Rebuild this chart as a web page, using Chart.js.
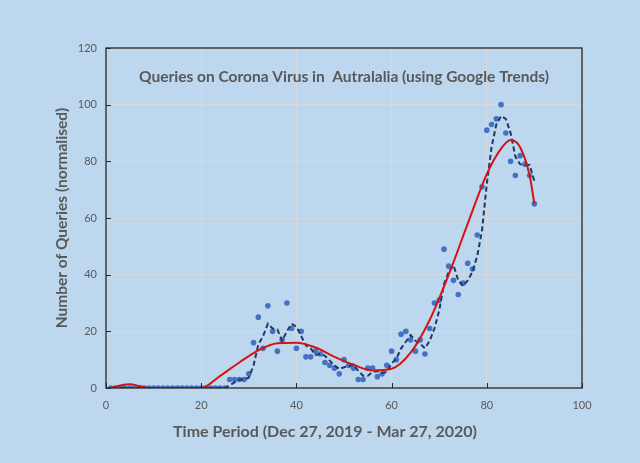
<!DOCTYPE html>
<html>
<head>
<meta charset="utf-8">
<script src="https://cdn.jsdelivr.net/npm/chart.js@4.4.0/dist/chart.umd.min.js"></script>
<style>
  html, body { margin: 0; padding: 0; background: #bdd7ee; }
  #wrap { width: 640px; height: 463px; }
</style>
</head>
<body>
<div id="wrap"><canvas id="chart" width="640" height="463"></canvas></div>
<script>
// day index 1..90 (Dec 27, 2019 - Mar 27, 2020)
const days = Array.from({ length: 90 }, (_, i) => i + 1);
// Google Trends values
const queries = [
  0, 0, 0, 0, 0, 0, 0, 0, 0, 0,
  0, 0, 0, 0, 0, 0, 0, 0, 0, 0,
  0, 0, 0, 0, 0, 3, 3, 3, 3, 5,
  16, 25, 14, 29, 20, 13, 17, 30, 21, 14,
  20, 11, 11, 13, 12, 9, 8, 7, 5, 10,
  8, 7, 3, 3, 7, 7, 4, 5, 8, 13,
  10, 19, 20, 17, 13, 17, 12, 21, 30, 31,
  49, 43, 38, 33, 37, 44, 42, 54, 71, 91,
  93, 95, 100, 90, 80, 75, 82, 79, 75, 65
];
// polynomial trendline (red)
const polyX = [1, 3, 5, 7, 9, 20, 24, 28, 32, 36, 40, 44, 48, 52, 56, 60, 64, 68, 72, 76, 80, 83, 85, 87, 89, 90];
const polyY = [0, 0.9, 1.3, 0.7, 0, 0, 4.3, 9, 13.3, 15.8, 16, 14.3, 11, 8.2, 6.2, 6.8, 12.5, 24, 40, 58, 75.5, 84.5, 87.5, 85, 75, 65];
const maPeriod = 3;

const chartTitle = 'Queries on Corona Virus in  Autralalia (using Google Trends)';
const xTitle = 'Time Period (Dec 27, 2019 - Mar 27, 2020)';
const yTitle = 'Number of Queries (normalised)';

const txtColor = '#595959';
const font = 'Lato, "Open Sans", sans-serif';

let pts = days.map((d, i) => ({ x: d, y: queries[i] }));
// Excel style moving average trendline
let maPts = [];
for (let i = maPeriod - 1; i < queries.length; i++) {
  let s = 0;
  for (let k = 0; k < maPeriod; k++) s += queries[i - k];
  maPts.push({ x: days[i], y: s / maPeriod });
}
let polyPts = polyX.map((x, i) => ({ x: x, y: polyY[i] }));

const framePlugin = {
  id: 'frame',
  afterDatasetsDraw(chart) {
    const { ctx, chartArea: a, scales } = chart;
    ctx.save();
    ctx.strokeStyle = '#262626';
    ctx.lineWidth = 1.3;
    ctx.strokeRect(a.left, a.top, a.right - a.left, a.bottom - a.top);
    // inward tick marks
    ctx.lineWidth = 1;
    ctx.beginPath();
    scales.x.ticks.forEach(t => {
      const px = Math.round(scales.x.getPixelForValue(t.value)) + 0.5;
      ctx.moveTo(px, a.bottom);
      ctx.lineTo(px, a.bottom - 5);
    });
    scales.y.ticks.forEach(t => {
      const py = Math.round(scales.y.getPixelForValue(t.value)) + 0.5;
      ctx.moveTo(a.left, py);
      ctx.lineTo(a.left + 5, py);
    });
    ctx.stroke();
    ctx.restore();
  },
  afterDraw(chart) {
    const { ctx, chartArea: a } = chart;
    ctx.save();
    ctx.fillStyle = txtColor;
    ctx.textAlign = 'center';
    ctx.textBaseline = 'middle';
    ctx.font = 'bold 15.5px ' + font;
    ctx.fillText(chartTitle, (a.left + a.right) / 2, 77);
    ctx.font = 'bold 16px ' + font;
    ctx.fillText(xTitle, 325, 432);
    ctx.restore();
  }
};

new Chart(document.getElementById('chart'), {
  type: 'scatter',
  data: {
    datasets: [
      {
        label: 'Poly. trend',
        data: polyPts,
        showLine: true,
        borderColor: '#d41414',
        borderWidth: 2,
        pointRadius: 0,
        cubicInterpolationMode: 'monotone',
        order: 1
      },
      {
        label: '3 per. Mov. Avg.',
        data: maPts,
        showLine: true,
        borderColor: '#1f3864',
        borderWidth: 2,
        borderDash: [5, 3],
        pointRadius: 0,
        tension: 0,
        order: 2
      },
      {
        label: 'Queries',
        data: pts,
        backgroundColor: '#4472c4',
        borderWidth: 0,
        pointRadius: 2.8,
        order: 3
      }
    ]
  },
  options: {
    responsive: false,
    animation: false,
    devicePixelRatio: 1,
    layout: { padding: { left: 0, top: 48, right: 58, bottom: 0 } },
    plugins: {
      legend: { display: false },
      tooltip: { enabled: false }
    },
    scales: {
      x: {
        min: 0, max: 100,
        ticks: { stepSize: 20, color: txtColor, padding: 11, font: { family: font, size: 11 } },
        grid: { color: 'rgba(217,217,217,0.9)', drawTicks: false },
        border: { display: false },
        afterFit(s) { s.height = 75; }
      },
      y: {
        min: 0, max: 120,
        ticks: { stepSize: 20, color: txtColor, padding: 9, font: { family: font, size: 11 } },
        grid: { color: 'rgba(217,217,217,0.9)', drawTicks: false },
        border: { display: false },
        title: {
          display: true,
          text: yTitle,
          color: txtColor,
          font: { family: font, size: 15.5, weight: 'bold' },
          padding: { top: 53, bottom: 0 }
        },
        afterFit(s) { s.width = 106; }
      }
    }
  },
  plugins: [framePlugin]
});
</script>
</body>
</html>
